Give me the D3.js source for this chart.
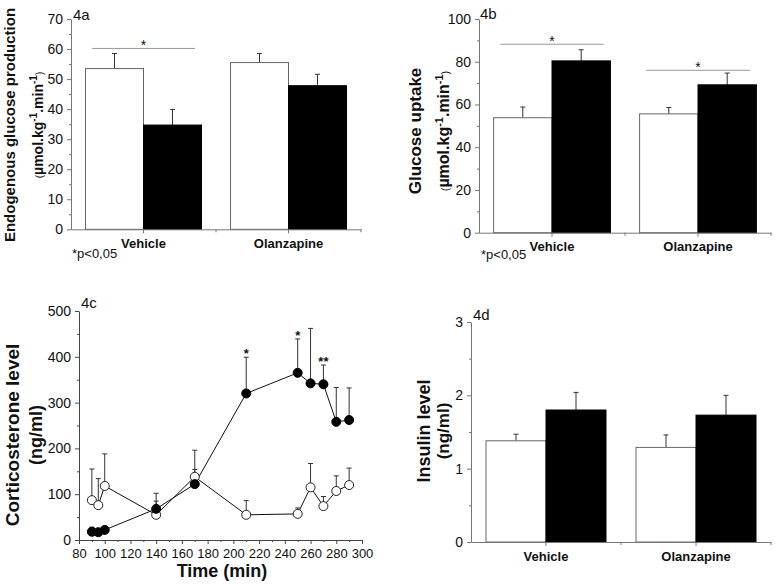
<!DOCTYPE html>
<html><head><meta charset="utf-8">
<script src="https://cdn.jsdelivr.net/npm/d3@7"></script>
<style>
body{margin:0;background:#fff}
svg text{font-family:"Liberation Sans",Arial,Helvetica,sans-serif;fill:#111}
</style>
</head><body>
<svg id="c" width="775" height="585"></svg>
<script>
// ---------- data ----------
const categories = ["Vehicle", "Olanzapine"];
const groups = ["white", "black"];

const egpWhite = [53.5, 55.5];
const egpWhiteErr = [5.0, 3.0];
const egpBlack = [34.7, 47.8];
const egpBlackErr = [5.2, 3.8];
const egpSigLevel = [60.2, null];
const egpTicks = [0, 10, 20, 30, 40, 50, 60, 70];

const uptakeWhite = [53.8, 55.6];
const uptakeWhiteErr = [5.0, 3.0];
const uptakeBlack = [80.4, 69.2];
const uptakeBlackErr = [5.2, 5.5];
const uptakeSigLevel = [88.2, 76.0];
const uptakeTicks = [0, 20, 40, 60, 80, 100];

const insulinWhite = [1.38, 1.29];
const insulinWhiteErr = [0.09, 0.17];
const insulinBlack = [1.80, 1.73];
const insulinBlackErr = [0.24, 0.27];
const insulinSigLevel = [null, null];
const insulinTicks = [0, 1, 2, 3];

const timePoints = [90, 95, 100, 140, 170, 210, 250, 260, 270, 280, 290];
const cortOpen = [87, 76, 118, 55, 138, 55, 57, 115, 74, 107, 120];
const cortOpenErr = [68, 58, 70, 30, 16, 31, 13, 52, 21, 33, 37];
const cortFilled = [18, 17, 22, 68, 122, 320, 365, 342, 340, 258, 262];
const cortFilledErr = [10, 6, 6, 34, 74, 79, 74, 120, 42, 75, 70];
const cortStars = ["", "", "", "", "", "*", "*", "", "**", "", ""];
const timeTicks = [80, 100, 120, 140, 160, 180, 200, 220, 240, 260, 280, 300];
const cortTicks = [0, 100, 200, 300, 400, 500];

// ---------- helpers ----------
const svg = d3.select("#c");
const AXIS = "#777";

function styleAxis(g, fs) {
  g.selectAll("path.domain").attr("stroke", AXIS).attr("stroke-width", 1);
  g.selectAll(".tick line").attr("stroke", AXIS);
  g.selectAll(".tick text").style("font-size", fs + "px").attr("fill", "#111");
}

function yLabel(x, yc, lines) {
  lines.forEach(l => {
    const t = svg.append("text")
      .attr("transform", `translate(${l.x},${yc}) rotate(-90)`)
      .attr("text-anchor", "middle");
    l.parts.forEach(p => {
      const ts = t.append("tspan").text(p.t)
        .style("font-size", p.fs + "px")
        .style("font-weight", p.b ? "bold" : "normal");
      if (p.dy) ts.attr("dy", p.dy);
    });
  });
}

function unitParts(fs) {
  const s = Math.round(fs * 0.68);
  return [
    {t: "(", fs: s, b: false},
    {t: "\u00b5mol.kg", fs: fs, b: true},
    {t: "-1", fs: s, b: true, dy: -fs * 0.4},
    {t: ".min", fs: fs, b: true, dy: fs * 0.4},
    {t: "-1", fs: s, b: true, dy: -fs * 0.4},
    {t: ")", fs: s, b: false, dy: fs * 0.4}
  ];
}

function barPanel(c) {
  const y = d3.scaleLinear().domain([0, c.max]).range([c.yb, c.yt]);
  const x = d3.scaleBand().domain(categories).range([c.x0, c.x1])
    .paddingInner(0.2).paddingOuter(0.1);
  const sub = d3.scaleBand().domain(groups).range([0, x.bandwidth()]);
  const vals = {white: c.white, black: c.black};
  const errs = {white: c.whiteErr, black: c.blackErr};

  categories.forEach((cat, i) => {
    groups.forEach(gname => {
      const v = vals[gname][i], e = errs[gname][i];
      const bx = x(cat) + sub(gname), bw = sub.bandwidth();
      const cx = bx + bw / 2;
      svg.append("line").attr("x1", cx).attr("x2", cx)
        .attr("y1", y(v)).attr("y2", y(v + e)).attr("stroke", "#333");
      svg.append("line").attr("x1", cx - 2.5).attr("x2", cx + 2.5)
        .attr("y1", y(v + e)).attr("y2", y(v + e)).attr("stroke", "#333");
      svg.append("rect").attr("x", bx).attr("y", y(v))
        .attr("width", bw).attr("height", y(0) - y(v))
        .attr("fill", gname === "white" ? "#fff" : "#000")
        .attr("stroke", gname === "white" ? "#666" : "#000")
        .attr("stroke-width", 1);
    });
    const lv = c.sig[i];
    if (lv != null) {
      const cx = x(cat) + x.bandwidth() / 2;
      const half = x.step() * 0.355;
      svg.append("line").attr("x1", cx - half).attr("x2", cx + half)
        .attr("y1", y(lv)).attr("y2", y(lv)).attr("stroke", "#999");
      svg.append("text").attr("x", cx).attr("y", y(lv) + 2)
        .attr("text-anchor", "middle").style("font-size", "14px").text("*");
    }
  });

  const gy = svg.append("g").attr("transform", `translate(${c.x0},0)`)
    .call(d3.axisLeft(y).tickValues(c.ticks).tickSize(4).tickSizeOuter(0).tickPadding(4)
      .tickFormat(d3.format("~g")));
  styleAxis(gy, 14);
  const minor = c.ticks.slice(0, -1).map((t, i) => (t + c.ticks[i + 1]) / 2);
  const gym = svg.append("g").attr("transform", `translate(${c.x0},0)`)
    .call(d3.axisLeft(y).tickValues(minor).tickSize(2).tickFormat(""));
  gym.select("path.domain").remove();
  styleAxis(gym, 14);

  const gx = svg.append("g").attr("transform", `translate(0,${c.yb})`)
    .call(d3.axisBottom(x).tickSize(4).tickSizeOuter(0).tickPadding(c.xpad));
  styleAxis(gx, 13);
  gx.selectAll(".tick text").style("font-weight", "bold");
  [1, 2].forEach(k => {
    const px = c.x0 + x.step() * k;
    svg.append("line").attr("x1", px).attr("x2", px)
      .attr("y1", c.yb).attr("y2", c.yb + 3).attr("stroke", AXIS);
  });
  return {x, y};
}

// ---------- 4a ----------
barPanel({x0: 71, x1: 361, yb: 229.3, yt: 19, max: 70, ticks: egpTicks,
  white: egpWhite, whiteErr: egpWhiteErr, black: egpBlack, blackErr: egpBlackErr,
  sig: egpSigLevel, xpad: 5});
svg.append("text").attr("x", 73).attr("y", 20).style("font-size", "15px").text("4a");
svg.append("text").attr("x", 72).attr("y", 258).style("font-size", "13px").text("*p<0,05");
yLabel(0, 125, [
  {x: 14.5, parts: [{t: "Endogenous glucose production", fs: 15, b: true}]},
  {x: 43, parts: unitParts(14)}
]);

// ---------- 4b ----------
barPanel({x0: 479, x1: 771, yb: 232.7, yt: 19, max: 100, ticks: uptakeTicks,
  white: uptakeWhite, whiteErr: uptakeWhiteErr, black: uptakeBlack, blackErr: uptakeBlackErr,
  sig: uptakeSigLevel, xpad: 5});
svg.append("text").attr("x", 480).attr("y", 19).style("font-size", "15px").text("4b");
svg.append("text").attr("x", 481).attr("y", 259).style("font-size", "13px").text("*p<0,05");
yLabel(0, 131, [
  {x: 421, parts: [{t: "Glucose uptake", fs: 17, b: true}]},
  {x: 449, parts: unitParts(16)}
]);

// ---------- 4d ----------
barPanel({x0: 471, x1: 771, yb: 542, yt: 322, max: 3, ticks: insulinTicks,
  white: insulinWhite, whiteErr: insulinWhiteErr, black: insulinBlack, blackErr: insulinBlackErr,
  sig: insulinSigLevel, xpad: 6});
svg.append("text").attr("x", 473).attr("y", 320).style("font-size", "15px").text("4d");
yLabel(0, 431, [
  {x: 429.5, parts: [{t: "Insulin level", fs: 18, b: true}]},
  {x: 449, parts: [{t: "(ng/ml)", fs: 17, b: true}]}
]);

// ---------- 4c ----------
(function () {
  const x = d3.scaleLinear().domain([80, 300]).range([79, 362]);
  const y = d3.scaleLinear().domain([0, 500]).range([540, 311]);
  const line = d3.line().x(d => x(d[0])).y(d => y(d[1]));

  function series(vals, errs) {
    const pts = timePoints.map((t, i) => [t, vals[i], errs[i]]);
    pts.forEach(p => {
      svg.append("line").attr("x1", x(p[0])).attr("x2", x(p[0]))
        .attr("y1", y(p[1])).attr("y2", y(p[1] + p[2])).attr("stroke", "#333");
      svg.append("line").attr("x1", x(p[0]) - 2.5).attr("x2", x(p[0]) + 2.5)
        .attr("y1", y(p[1] + p[2])).attr("y2", y(p[1] + p[2])).attr("stroke", "#333");
    });
    svg.append("path").datum(pts).attr("d", line)
      .attr("fill", "none").attr("stroke", "#111").attr("stroke-width", 1);
    return pts;
  }
  const po = series(cortOpen, cortOpenErr);
  const pf = series(cortFilled, cortFilledErr);
  po.forEach(p => svg.append("circle").attr("cx", x(p[0])).attr("cy", y(p[1])).attr("r", 4.5)
    .attr("fill", "#fff").attr("stroke", "#222").attr("stroke-width", 1));
  pf.forEach(p => svg.append("circle").attr("cx", x(p[0])).attr("cy", y(p[1])).attr("r", 4.5)
    .attr("fill", "#000").attr("stroke", "#000"));
  timePoints.forEach((t, i) => {
    if (cortStars[i]) svg.append("text").attr("x", x(t)).attr("y", y(cortFilled[i] + cortFilledErr[i]) + 1)
      .attr("text-anchor", "middle").style("font-size", "13px").style("font-weight", "bold").text(cortStars[i]);
  });

  const gy = svg.append("g").attr("transform", `translate(${x(80)},0)`)
    .call(d3.axisLeft(y).tickValues(cortTicks).tickSize(4).tickSizeOuter(0).tickPadding(4));
  styleAxis(gy, 14);
  gy.selectAll("path.domain, .tick line").attr("stroke", "#444");
  const gym = svg.append("g").attr("transform", `translate(${x(80)},0)`)
    .call(d3.axisLeft(y).tickValues(cortTicks.slice(0, -1).map(t => t + 50)).tickSize(2).tickFormat(""));
  gym.select("path.domain").remove();
  gym.selectAll(".tick line").attr("stroke", "#444");

  const gx = svg.append("g").attr("transform", `translate(0,${y(0)})`)
    .call(d3.axisBottom(x).tickValues(timeTicks).tickSize(4).tickSizeOuter(0).tickFormat(d3.format("d")).tickPadding(5));
  styleAxis(gx, 13);
  gx.selectAll("path.domain, .tick line").attr("stroke", "#444");
  const gxm = svg.append("g").attr("transform", `translate(0,${y(0)})`)
    .call(d3.axisBottom(x).tickValues(timeTicks.slice(0, -1).map(t => t + 10)).tickSize(2).tickFormat(""));
  gxm.select("path.domain").remove();
  gxm.selectAll(".tick line").attr("stroke", "#444");

  svg.append("text").attr("x", 81).attr("y", 308).style("font-size", "15px").text("4c");
  svg.append("text").attr("x", 222).attr("y", 577).attr("text-anchor", "middle")
    .style("font-size", "18px").style("font-weight", "bold").text("Time (min)");
  yLabel(0, 435, [
    {x: 19, parts: [{t: "Corticosterone level", fs: 19, b: true}]},
    {x: 42, parts: [{t: "(ng/ml)", fs: 18, b: true}]}
  ]);
})();
</script>
</body></html>
